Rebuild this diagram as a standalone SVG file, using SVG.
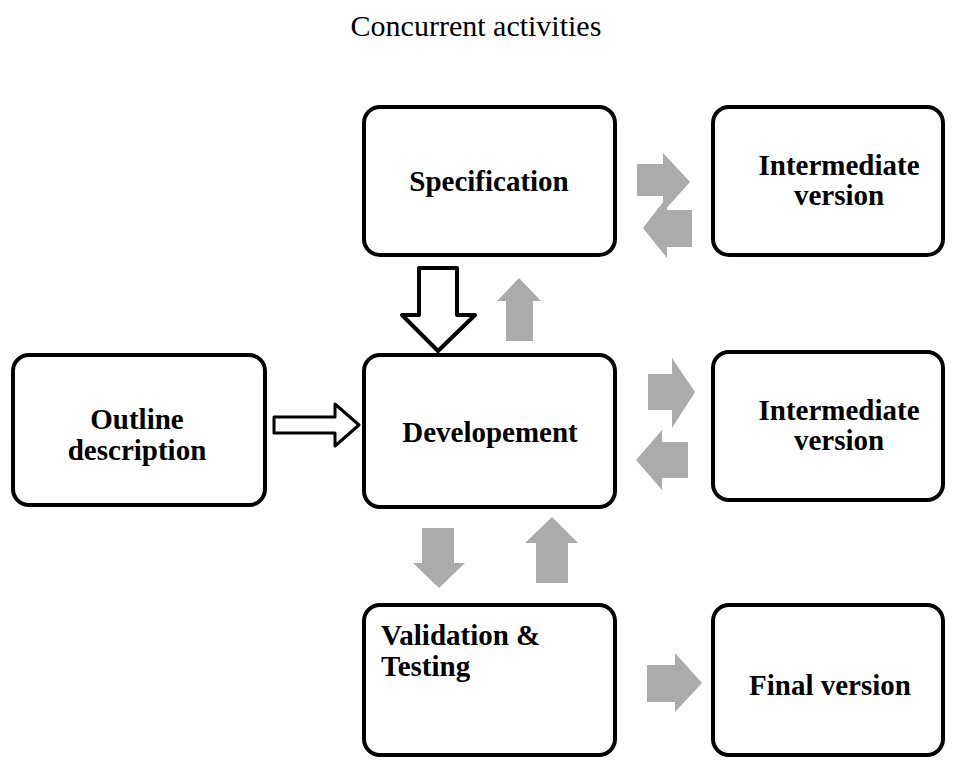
<svg xmlns="http://www.w3.org/2000/svg" width="966" height="760" viewBox="0 0 966 760">
<style>
.box{fill:#fff;stroke:#000;stroke-width:4}
.lbl{font-family:"Liberation Serif","Times New Roman",serif;font-weight:bold;font-size:29px;fill:#000}
.title{font-family:"Liberation Serif","Times New Roman",serif;font-size:30px;fill:#000}
.g{fill:#ababab;stroke:none}
.h{fill:#fff;stroke:#000;stroke-linejoin:round}
</style>
<rect width="966" height="760" fill="#fff"/>
<text class="title" x="476" y="36" text-anchor="middle">Concurrent activities</text>
<g id="spec"><rect class="box" x="364" y="107" width="251" height="148" rx="16"/><text class="lbl" x="489" y="191" text-anchor="middle">Specification</text></g>
<g id="inter1"><rect class="box" x="713" y="107" width="230" height="148" rx="16"/><text class="lbl" x="839" y="175" text-anchor="middle">Intermediate</text><text class="lbl" x="839" y="205" text-anchor="middle">version</text></g>
<g id="outline"><rect class="box" x="13" y="355" width="252" height="150" rx="16"/><text class="lbl" x="137" y="429" text-anchor="middle">Outline</text><text class="lbl" x="137" y="460" text-anchor="middle">description</text></g>
<g id="dev"><rect class="box" x="364" y="355" width="251" height="152" rx="16"/><text class="lbl" x="490" y="442" text-anchor="middle">Developement</text></g>
<g id="inter2"><rect class="box" x="713" y="352" width="230" height="148" rx="16"/><text class="lbl" x="839" y="420" text-anchor="middle">Intermediate</text><text class="lbl" x="839" y="450" text-anchor="middle">version</text></g>
<g id="val"><rect class="box" x="364" y="605" width="251" height="150" rx="16"/><text class="lbl" x="381" y="645">Validation &amp;</text><text class="lbl" x="381" y="676">Testing</text></g>
<g id="final"><rect class="box" x="713" y="605" width="230" height="150" rx="16"/><text class="lbl" x="830" y="695" text-anchor="middle">Final version</text></g>
<g id="connectors">
<polygon class="g" points="637,164 663,164 663,153 690,182 663,212 663,196 637,196"/>
<polygon class="g" points="692,210 667,210 667,197 643,228 667,258 667,247 692,247"/>
<polygon class="g" points="648,374 672,374 672,358 695,392 672,428 672,410 648,410"/>
<polygon class="g" points="688,442 662,442 662,430 636,460 662,490 662,478 688,478"/>
<polygon class="g" points="506,341 506,301 497,301 519,278 541,301 533,301 533,341"/>
<polygon class="g" points="422,528 454,528 454,563 465,563 439,588 413,563 422,563"/>
<polygon class="g" points="536,583 536,543 525,543 552,517 578,543 568,543 568,583"/>
<polygon class="g" points="647,665 675,665 675,653 702,683 675,712 675,702 647,702"/>
<polygon class="h" stroke-width="4" points="419,268 457,268 457,315 475,315 438,351 402,315 419,315"/>
<polygon class="h" stroke-width="3" points="274,417 335,417 335,404 359,425 335,446 335,433 274,433"/>
</g>
</svg>
